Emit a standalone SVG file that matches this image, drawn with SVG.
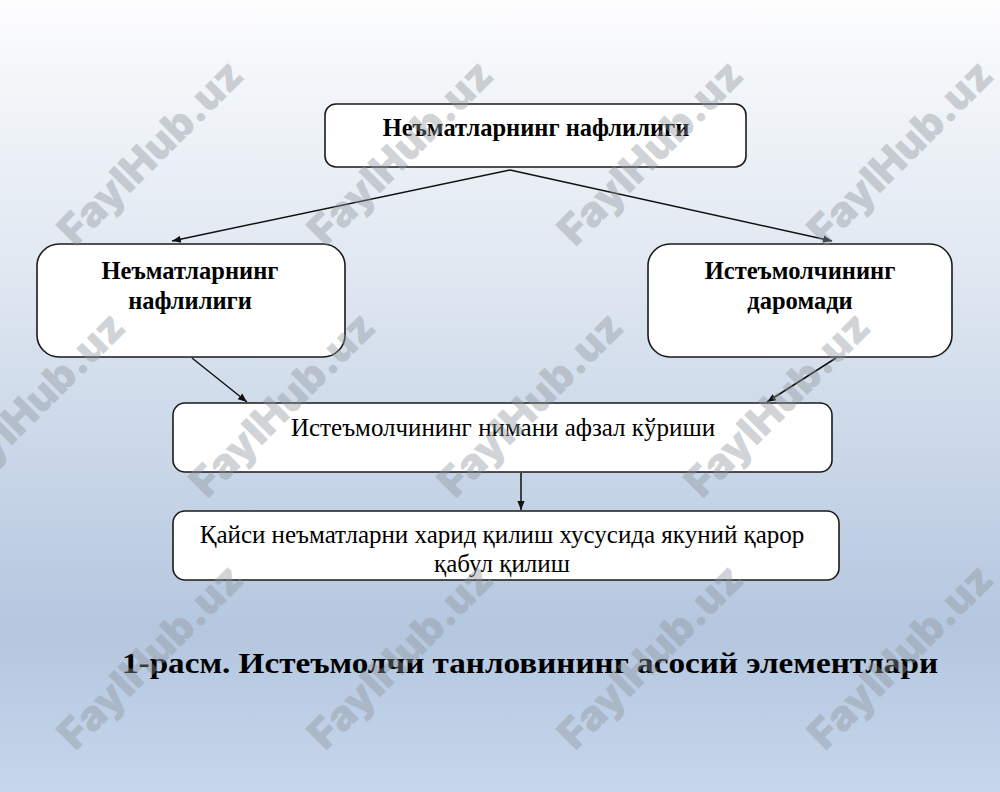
<svg xmlns="http://www.w3.org/2000/svg" width="1000" height="792" viewBox="0 0 1000 792">
<style>
.box{fill:#ffffff;stroke:#1a1a1a;stroke-width:1.6}
.bt{font-family:"Liberation Serif","Times New Roman",serif;font-weight:bold;font-size:24.5px;fill:#000;text-anchor:middle}
.rt{font-family:"Liberation Serif","Times New Roman",serif;font-size:25px;fill:#000;text-anchor:middle}
.cap{font-family:"Liberation Serif","Times New Roman",serif;font-weight:bold;font-size:30px;fill:#000}
.wm{font-family:Inter,"DejaVu Sans",sans-serif;font-weight:900;font-size:42px;fill:#8f959c;opacity:0.4;text-anchor:middle}
.con{stroke:#111;stroke-width:1.5;fill:none;marker-end:url(#ah)}
</style>
<defs>
<linearGradient id="bg" x1="0" y1="0" x2="0" y2="1">
<stop offset="0" stop-color="#fdfdfe"/>
<stop offset="0.1" stop-color="#f3f6f9"/>
<stop offset="0.35" stop-color="#dfe7f1"/>
<stop offset="0.8" stop-color="#b4c7df"/>
<stop offset="1" stop-color="#c6d7ec"/>
</linearGradient>
<marker id="ah" viewBox="0 0 10 10" refX="10" refY="5" markerWidth="9" markerHeight="9" markerUnits="userSpaceOnUse" orient="auto">
<path d="M0,1 L10,5 L0,9 z" fill="#111"/>
</marker>
</defs>
<rect x="0" y="0" width="1000" height="792" fill="url(#bg)"/>
<g id="connectors">
<line class="con" x1="510" y1="170" x2="172" y2="241"/>
<line class="con" x1="510" y1="170" x2="832" y2="241"/>
<line class="con" x1="192" y1="358" x2="247" y2="402"/>
<line class="con" x1="836" y1="358" x2="767" y2="402"/>
<line class="con" x1="521" y1="473" x2="521" y2="510"/>
</g>
<g id="node-top">
<rect class="box" x="325" y="104" width="421" height="63" rx="11"/>
<text class="bt" x="536" y="136">Неъматларнинг нафлилиги</text>
</g>
<g id="node-left">
<rect class="box" x="37" y="244" width="308" height="113" rx="22"/>
<text class="bt" x="190" y="279">Неъматларнинг</text>
<text class="bt" x="190" y="309">нафлилиги</text>
</g>
<g id="node-right">
<rect class="box" x="648" y="244" width="304" height="113" rx="22"/>
<text class="bt" x="800" y="279">Истеъмолчининг</text>
<text class="bt" x="800" y="309">даромади</text>
</g>
<g id="node-middle">
<rect class="box" x="173" y="403" width="659" height="69" rx="12"/>
<text class="rt" x="503" y="436">Истеъмолчининг нимани афзал кўриши</text>
</g>
<g id="node-bottom">
<rect class="box" x="173" y="511" width="666" height="69" rx="12"/>
<text class="rt" x="502" y="543">Қайси неъматларни харид қилиш хусусида якуний қарор</text>
<text class="rt" x="502" y="572">қабул қилиш</text>
</g>
<text class="cap" x="122" y="673" textLength="816" lengthAdjust="spacingAndGlyphs">1-расм. Истеъмолчи танловининг асосий элементлари</text>
<g id="watermarks">
<text class="wm" transform="translate(150,152) rotate(-45)" dy="15">FaylHub.uz</text>
<text class="wm" transform="translate(400,152) rotate(-45)" dy="15">FaylHub.uz</text>
<text class="wm" transform="translate(650,152) rotate(-45)" dy="15">FaylHub.uz</text>
<text class="wm" transform="translate(900,152) rotate(-45)" dy="15">FaylHub.uz</text>
<text class="wm" transform="translate(32,404) rotate(-45)" dy="15">FaylHub.uz</text>
<text class="wm" transform="translate(282,404) rotate(-45)" dy="15">FaylHub.uz</text>
<text class="wm" transform="translate(530,404) rotate(-45)" dy="15">FaylHub.uz</text>
<text class="wm" transform="translate(777,404) rotate(-45)" dy="15">FaylHub.uz</text>
<text class="wm" transform="translate(150,656) rotate(-45)" dy="15">FaylHub.uz</text>
<text class="wm" transform="translate(400,656) rotate(-45)" dy="15">FaylHub.uz</text>
<text class="wm" transform="translate(650,656) rotate(-45)" dy="15">FaylHub.uz</text>
<text class="wm" transform="translate(900,656) rotate(-45)" dy="15">FaylHub.uz</text>
</g>
</svg>
